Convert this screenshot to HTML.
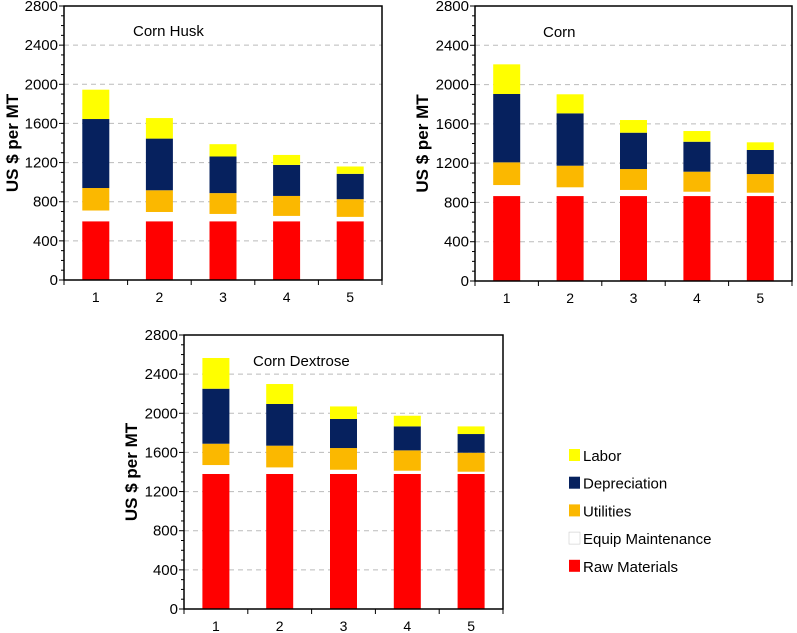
<!DOCTYPE html>
<html><head><meta charset="utf-8"><style>
body{margin:0;background:#fff;}
svg{display:block;font-family:"Liberation Sans",sans-serif;}
</style></head><body>
<svg id="fig" width="797" height="633" viewBox="0 0 797 633" xmlns="http://www.w3.org/2000/svg"></svg>
<script>
const categories=["1","2","3","4","5"];
const yTicks=[0,400,800,1200,1600,2000,2400,2800];
const seriesNames=["Raw Materials","Equip Maintenance","Utilities","Depreciation","Labor"];
const seriesColors=["#ff0000","#ffffff","#fbb800","#06215e","#ffff00"];
// Corn Husk
const huskRaw=[600,600,600,600,600];
const huskEquip=[110,95,75,55,45];
const huskUtil=[230,222,213,204,181];
const huskDep=[705,528,374,317,259];
const huskLabor=[300,210,126,102,75];
// Corn
const cornRaw=[865,865,865,865,865];
const cornEquip=[112,89,62,44,34];
const cornUtil=[231,220,213,204,190];
const cornDep=[696,533,370,305,245];
const cornLabor=[302,194,129,109,78];
// Corn Dextrose
const dexRaw=[1380,1380,1380,1380,1380];
const dexEquip=[91,67,43,33,23];
const dexUtil=[218,222,222,208,194];
const dexDep=[562,426,297,245,191];
const dexLabor=[314,204,128,109,78];

const NS="http://www.w3.org/2000/svg";
const fig=document.getElementById('fig');
function mk(tag,attrs,parent){const e=document.createElementNS(NS,tag);for(const k in attrs)e.setAttribute(k,attrs[k]);(parent||fig).appendChild(e);return e;}

function drawChart(name,title,box,series,titlePos,ytitleX){
  const g=mk('g',{});
  
  
  const {x0,x1,yTop,yBot}=box;
  const yMax=2800;
  const yScale=v=>yBot-(v/yMax)*(yBot-yTop);
  const band=(x1-x0)/categories.length;
  const xCenter=i=>x0+band*(i+0.5);
  const barW=27;
  yTicks.forEach(t=>{
    if(t>0&&t<yMax){
      const l=mk('line',{x1:x0,x2:x1,y1:yScale(t),y2:yScale(t),stroke:'#bbb','stroke-dasharray':'5,4','stroke-width':1},g);
      
      
    }
  });
  categories.forEach((c,i)=>{
    let base=0;
    series.forEach((arr,s)=>{
      const v=arr[i];
      const r=mk('rect',{x:xCenter(i)-barW/2,y:yScale(base+v),width:barW,height:yScale(base)-yScale(base+v),fill:seriesColors[s]},g);
      
      
      base+=v;
    });
  });
  const fr=mk('rect',{x:x0,y:yTop,width:x1-x0,height:yBot-yTop,fill:'none',stroke:'#000','stroke-width':1.5},g);
  
  
  for(let v=0;v<=yMax;v+=100){
    const major=v%400===0;
    mk('line',{x1:x0-(major?5:3),x2:x0,y1:yScale(v),y2:yScale(v),stroke:'#000','stroke-width':1},g);
  }
  yTicks.forEach(t=>{
    const tx=mk('text',{x:x0-6,y:yScale(t)+5,'text-anchor':'end','font-size':15,fill:'#000'},g);
    tx.textContent=t;
    
    
  });
  for(let i=0;i<=categories.length;i++){
    mk('line',{x1:x0+band*i,x2:x0+band*i,y1:yBot,y2:yBot+5,stroke:'#000','stroke-width':1},g);
  }
  categories.forEach((c,i)=>{
    const tx=mk('text',{x:xCenter(i),y:yBot+22,'text-anchor':'middle','font-size':14,fill:'#000'},g);
    tx.textContent=c;
    
    
  });
  const tt=mk('text',{x:titlePos[0],y:titlePos[1],'font-size':15,fill:'#000'},g);
  tt.textContent=title;
  
  
  const yc=(yTop+yBot)/2;
  const yt=mk('text',{x:ytitleX,y:yc,'text-anchor':'middle','font-size':17,'font-weight':'bold',fill:'#000',transform:`rotate(-90 ${ytitleX} ${yc})`},g);
  yt.textContent='US $ per MT';
  
  
}

drawChart('corn-husk','Corn Husk',{x0:64,x1:382,yTop:6,yBot:280},[huskRaw,huskEquip,huskUtil,huskDep,huskLabor],[133,36],18);
drawChart('corn','Corn',{x0:475,x1:792,yTop:6,yBot:281},[cornRaw,cornEquip,cornUtil,cornDep,cornLabor],[543,37],428);
drawChart('corn-dextrose','Corn Dextrose',{x0:184,x1:503,yTop:335,yBot:609},[dexRaw,dexEquip,dexUtil,dexDep,dexLabor],[253,366],137);

const legend=mk('g',{});


const legendOrder=[4,3,2,1,0];
legendOrder.forEach((s,k)=>{
  const y=456+k*27.7;
  const r=mk('rect',{x:569,y:y-7,width:11,height:12,fill:seriesColors[s],stroke:s===1?'#ccc':'none','stroke-width':0.6},legend);
  
  
  const t=mk('text',{x:583,y:y+5,'font-size':15,fill:'#000'},legend);
  t.textContent=seriesNames[s];
  
  
});
</script>
</body></html>
